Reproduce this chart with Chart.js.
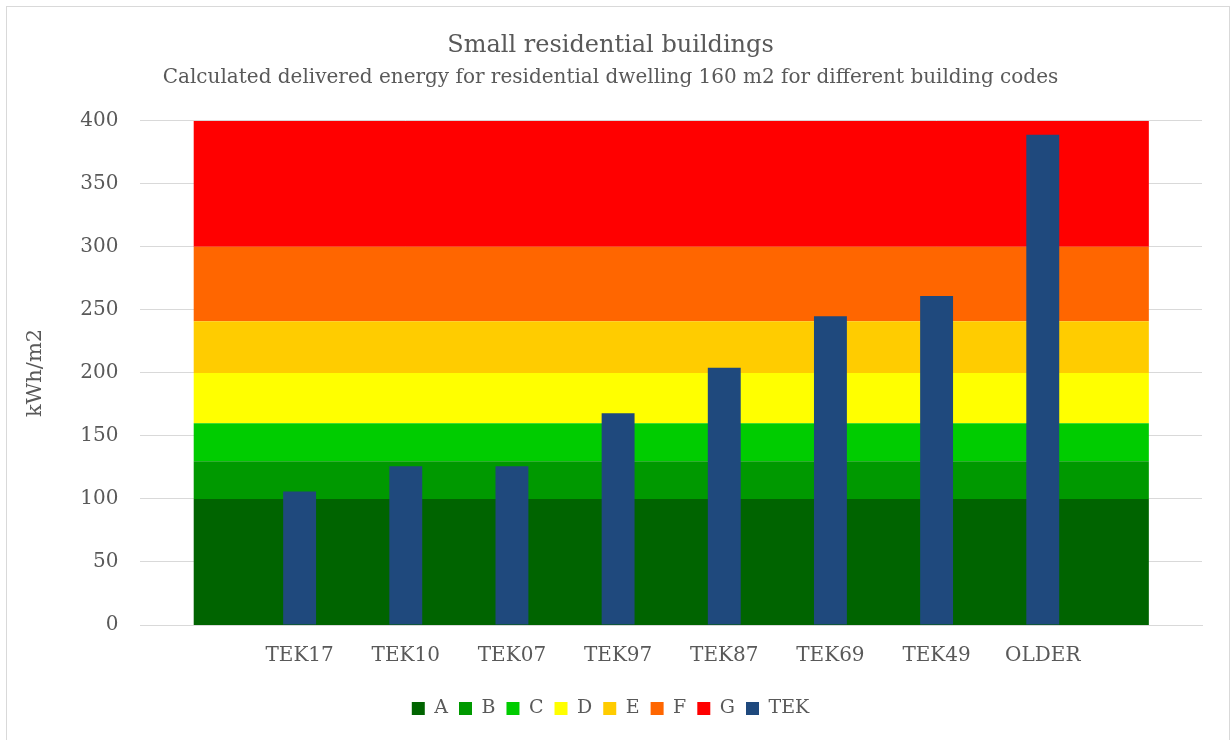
<!DOCTYPE html>
<html>
<head>
<meta charset="utf-8">
<script src="https://cdn.jsdelivr.net/npm/chart.js@4"></script>
<style>
  body { margin: 0; background: #fff; }
  #frame { position: absolute; left: 6px; top: 6px; width: 1222px; height: 740px; border: 1px solid #d9d9d9; border-bottom: none; }
  #wrap { position: absolute; left: 0; top: 0; width: 1232px; height: 740px; }
</style>
</head>
<body>
<div id="frame"></div>
<div id="wrap"><canvas id="energyChart"></canvas></div>
<script>
// Categories (empty first/last slots so the bands run past the outer bars)
const categories = ['', 'TEK17', 'TEK10', 'TEK07', 'TEK97', 'TEK87', 'TEK69', 'TEK49', 'OLDER', ''];

// Delivered energy per building code, kWh/m2
const tekValues = [null, 106, 126, 126, 168, 204, 245, 261, 389, null];

// Energy label bands (thickness of each band, stacked)
const bandLabels = ['A', 'B', 'C', 'D', 'E', 'F', 'G'];
const bandSizes = [100, 30, 30, 40, 41, 59, 100];
const bandColors = ['#006400', '#009900', '#00CC00', '#FFFF00', '#FFCC00', '#FF6600', '#FF0000'];

const yTicks = [0, 50, 100, 150, 200, 250, 300, 350, 400];

const textColor = '#595959';
const fontFamily = "'DejaVu Serif', serif";

const datasets = [];
bandLabels.forEach(function(label, i) {
    datasets.push({
        type: 'line',
        label: label,
        data: categories.map(function() { return bandSizes[i]; }),
        backgroundColor: bandColors[i],
        borderColor: bandColors[i],
        borderWidth: 0,
        pointRadius: 0,
        tension: 0,
        fill: i === 0 ? 'origin' : '-1',
        stack: 'bands',
        order: 2
    });
});
datasets.push({
    type: 'bar',
    label: 'TEK',
    data: tekValues,
    backgroundColor: '#1F497D',
    borderWidth: 0,
    stack: 'tek',
    barPercentage: 0.31,
    categoryPercentage: 1,
    order: 1
});

const ctx = document.getElementById('energyChart').getContext('2d');
new Chart(ctx, {
    type: 'bar',
    data: {
        labels: categories,
        datasets: datasets
    },
    options: {
        responsive: true,
        maintainAspectRatio: false,
        animation: false,
        layout: {
            padding: { left: 19, right: 30, top: 18, bottom: 12 }
        },
        plugins: {
            title: {
                display: true,
                text: 'Small residential buildings',
                color: textColor,
                font: { family: fontFamily, size: 24, weight: 'normal' },
                padding: { top: 13, bottom: 6 }
            },
            subtitle: {
                display: true,
                text: 'Calculated delivered energy for residential dwelling 160 m2 for different building codes',
                color: textColor,
                font: { family: fontFamily, size: 20 },
                padding: { bottom: 31 }
            },
            legend: {
                position: 'bottom',
                labels: {
                    color: textColor,
                    font: { family: fontFamily, size: 19 },
                    boxWidth: 13,
                    boxHeight: 13,
                    padding: 11,
                    sort: function(a, b) { return a.datasetIndex - b.datasetIndex; }
                }
            },
            tooltip: { enabled: false }
        },
        scales: {
            x: {
                stacked: true,
                grid: { display: false },
                border: { display: true, color: '#d9d9d9', width: 1 },
                ticks: {
                    color: textColor,
                    font: { family: fontFamily, size: 20 },
                    padding: 11
                },
                afterFit: function(scale) { scale.height += 9; }
            },
            y: {
                stacked: true,
                min: yTicks[0],
                max: yTicks[yTicks.length - 1],
                grid: { color: '#d9d9d9', drawTicks: false },
                border: { display: false },
                ticks: {
                    stepSize: 50,
                    color: textColor,
                    font: { family: fontFamily, size: 20 },
                    padding: 22
                },
                title: {
                    display: true,
                    text: 'kWh/m2',
                    color: textColor,
                    font: { family: fontFamily, size: 21 },
                    padding: { bottom: 10 }
                }
            }
        }
    }
});
</script>
</body>
</html>
